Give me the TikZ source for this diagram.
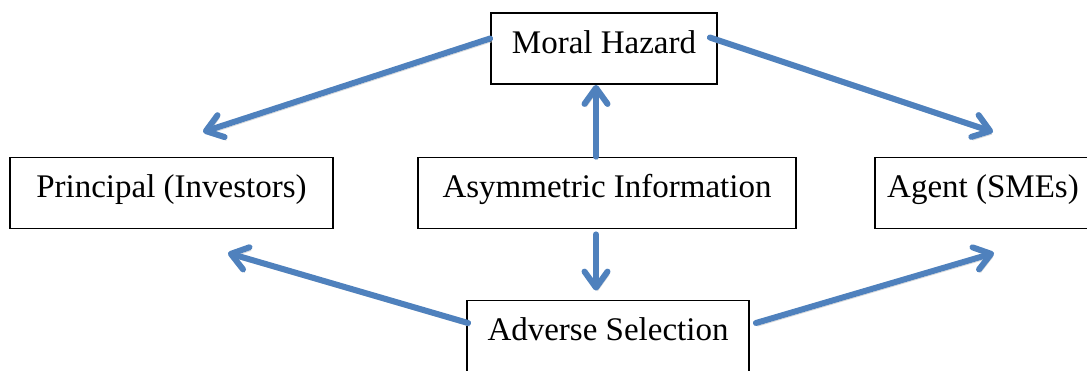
\documentclass[tikz,border=0pt]{standalone}
\usepackage{fontspec}
\setmainfont{Liberation Serif}
\usepackage{tikz}
\usetikzlibrary{arrows.meta,calc}
\definecolor{linkblue}{RGB}{79,129,189}

\begin{document}
\begin{tikzpicture}[x=0.5pt, y=-0.5pt,
  infobox/.style={draw, line width=0.9pt, inner sep=0pt, text height=20pt, text depth=15.5pt,
    font=\fontsize{16.5}{19}\selectfont},
  link/.style={draw=linkblue, line width=3pt, line cap=round,
    -{Straight Barb[round, length=8pt, width=11.5pt]},
    preaction={draw=black!15, transform canvas={xshift=0.8pt, yshift=-1.6pt}}}]
\useasboundingbox (0,0) rectangle (1087,370);
\node[infobox, minimum width=113pt] (moral) at (604,48.5) {Moral Hazard};
\node[infobox, minimum width=161.5pt] (principal) at (171.5,193) {Principal (Investors)};
\node[infobox, minimum width=189pt] (asym) at (607,193) {Asymmetric Information};
\node[infobox, minimum width=108pt] (agent) at (983,193) {Agent (SMEs)};
\node[infobox, minimum width=141pt] (adverse) at (608,336) {Adverse Selection};
\coordinate (mh-p) at (203,132);
\coordinate (mh-a) at (993,132);
\coordinate (as-p) at (228,253);
\coordinate (as-a) at (994,253);
\draw[link] ($(moral.west)+(0,-10)$) -- (mh-p);
\draw[link] ($(moral.east)+(-8,-11)$) -- (mh-a);
\draw[link] (asym.north -| 596,0) -- (moral.south -| 596,0);
\draw[link] ($(asym.south -| 596,0)+(0,5)$) -- ($(adverse.north -| 596,0)+(0,-9)$);
\draw[link] ($(adverse.west)+(2,-13)$) -- (as-p);
\draw[link] ($(adverse.east)+(6,-13)$) -- (as-a);
\end{tikzpicture}
\end{document}
